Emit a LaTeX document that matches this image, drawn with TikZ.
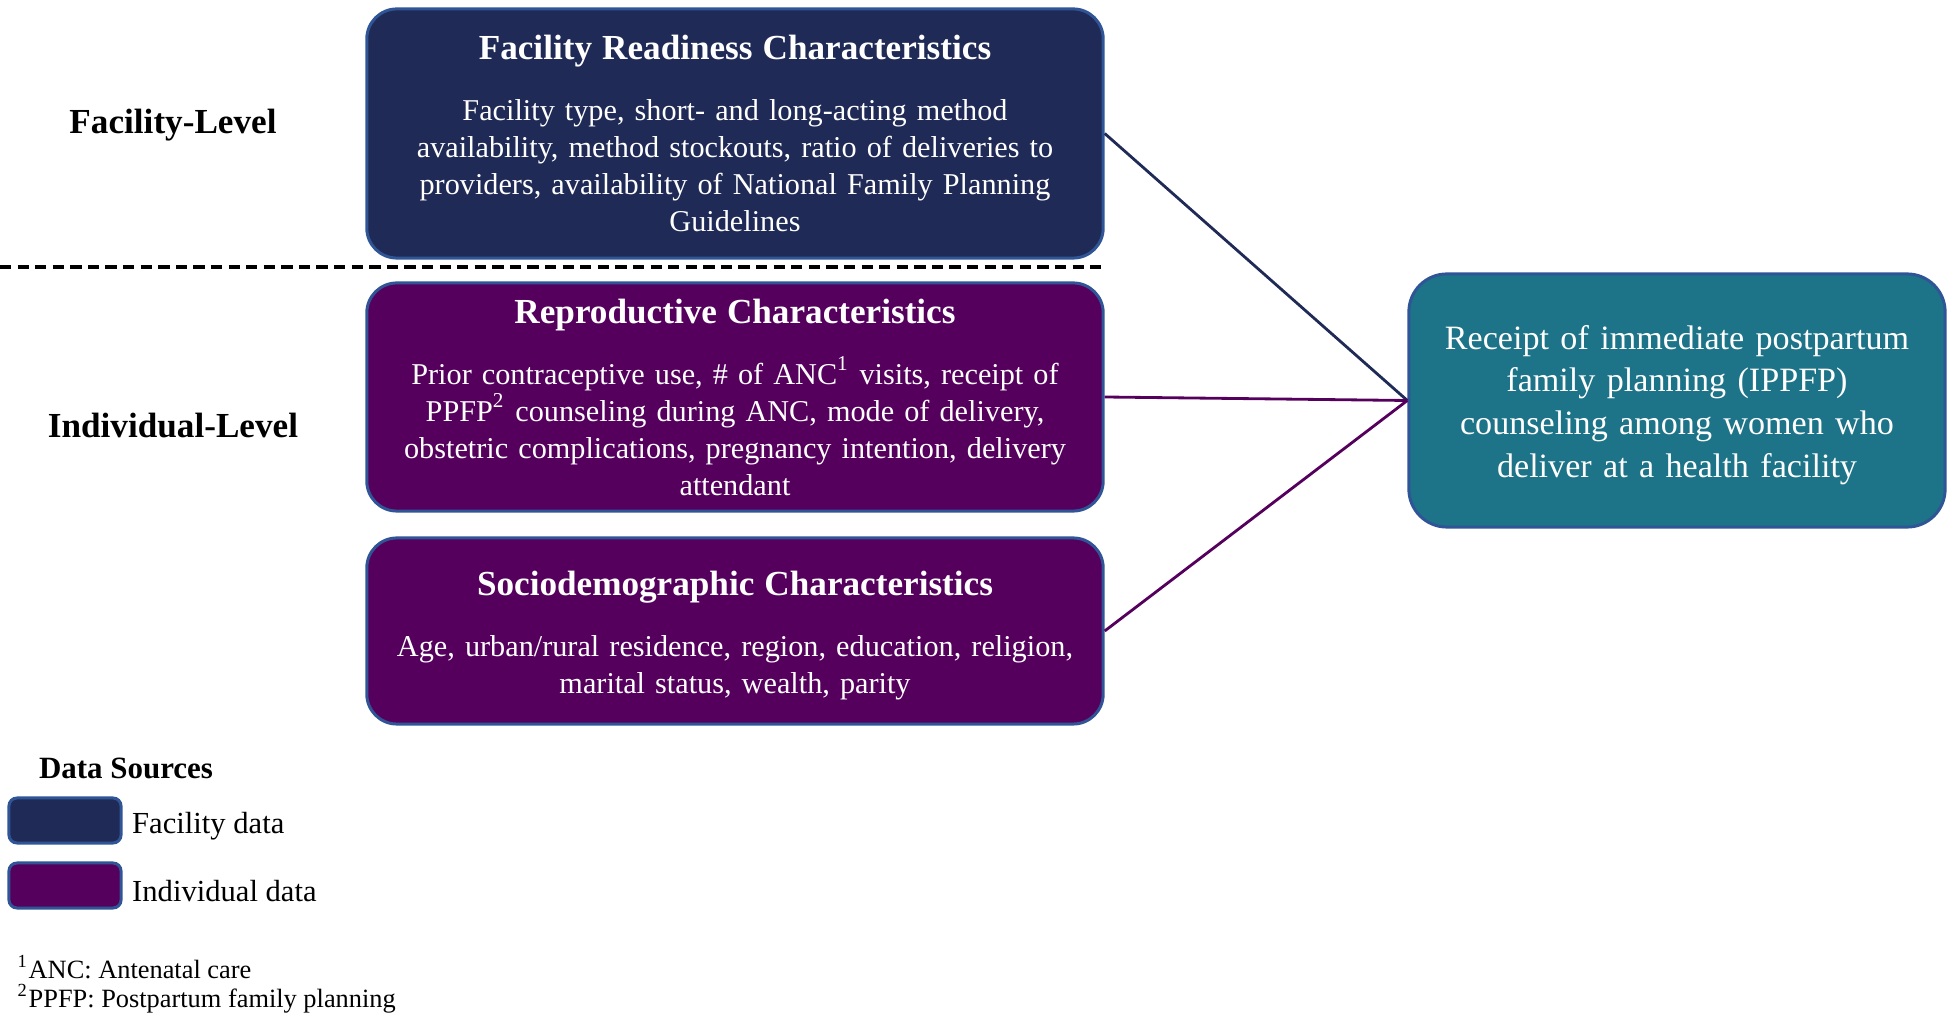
\documentclass[tikz,border=0pt]{standalone}
\usepackage{fontspec}
\setmainfont{Liberation Serif}
\usetikzlibrary{positioning}

\definecolor{facnavy}{RGB}{31,42,86}
\definecolor{indpurple}{RGB}{86,0,94}
\definecolor{outteal}{RGB}{29,115,135}
\definecolor{edgeblue}{RGB}{47,85,151}

\newcommand{\boxtitle}[1]{{\bfseries\fontsize{10}{10.5}\selectfont #1}}

\tikzset{
  charbox/.style = {rectangle, rounded corners=0.3cm, draw=edgeblue,
                    line width=0.85pt, fill=#1, text=white, align=center,
                    text width=7.06cm, inner sep=0.15cm,
                    font=\fontsize{8.6}{10.5}\selectfont},
  charbox/.default = facnavy,
  keybox/.style = {rectangle, rounded corners=0.08cm, draw=edgeblue,
                   line width=0.85pt, fill=#1, minimum width=1.12cm,
                   minimum height=0.45cm, inner sep=0pt},
  keytext/.style = {inner sep=0pt, yshift=-0.06cm, font=\fontsize{8.7}{10.5}\selectfont},
  level/.style = {font=\bfseries\fontsize{10}{12}\selectfont},
  link/.style = {line width=0.8pt}
}

\begin{document}
\begin{tikzpicture}[x=0.01cm, y=-0.01cm]
	\useasboundingbox (0,0) rectangle (1953,1013);

	% Levels
	\node[level] (facLevel) at (173,125) {Facility-Level};
	\node[level] (indLevel) at (173,426) {Individual-Level};
	\draw[black, line width=0.9pt, dash pattern=on 3.2pt off 1.8pt] (0,267) -- (1103,267);

	% Characteristics
	\node[charbox=facnavy, minimum height=2.49cm] (readiness) at (735,133.5)
		{\boxtitle{Facility Readiness Characteristics}\\[6.9pt]
		 Facility type, short- and long-acting method\\
		 availability, method stockouts, ratio of deliveries to\\
		 providers, availability of National Family Planning\\
		 Guidelines};
	\node[charbox=indpurple, minimum height=2.28cm] (reproductive) at (735,397)
		{\boxtitle{Reproductive Characteristics}\\[6.9pt]
		 Prior contraceptive use, \# of ANC\textsuperscript{1} visits, receipt of\\
		 PPFP\textsuperscript{2} counseling during ANC, mode of delivery,\\
		 obstetric complications, pregnancy intention, delivery\\
		 attendant};
	\node[charbox=indpurple, minimum height=1.86cm] (sociodem) at (735,631)
		{\rule{0pt}{9.6pt}\boxtitle{Sociodemographic Characteristics}\\[6.9pt]
		 Age, urban/rural residence, region, education, religion,\\
		 marital status, wealth, parity};

	% Outcome
	\node[charbox=outteal, rounded corners=0.38cm, text width=5.06cm,
	      minimum height=2.53cm, font=\fontsize{9.7}{12.15}\selectfont] (ippfp) at (1677,400.5)
		{\rule{0pt}{9.3pt}Receipt of immediate postpartum\\
		 family planning (IPPFP)\\
		 counseling among women who\\
		 deliver at a health facility};

	% Links
	\draw[link, facnavy] (readiness.east) -- (ippfp.west);
	\draw[link, indpurple] (reproductive.east) -- (ippfp.west);
	\draw[link, indpurple] (sociodem.east) -- (ippfp.west);

	% Legend
	\node[font=\bfseries\fontsize{8.8}{10.5}\selectfont] (dataSrc) at (126,768) {Data Sources};
	\node[keybox=facnavy] (keyFac) at (65,820.5) {};
	\node[keybox=indpurple] (keyInd) at (65,885.5) {};
	\node[keytext, right=0.09cm of keyFac] (keyFacTxt) {Facility data};
	\node[keytext, right=0.09cm of keyInd] (keyIndTxt) {Individual data};

	% Footnotes
	\node[anchor=west, inner sep=0pt, font=\fontsize{7.5}{9}\selectfont] (noteAnc) at (17,967) {\textsuperscript{1}ANC: Antenatal care};
	\node[anchor=west, inner sep=0pt, font=\fontsize{7.5}{9}\selectfont] (notePpfp) at (17,999) {\textsuperscript{2}PPFP: Postpartum family planning};
\end{tikzpicture}
\end{document}
